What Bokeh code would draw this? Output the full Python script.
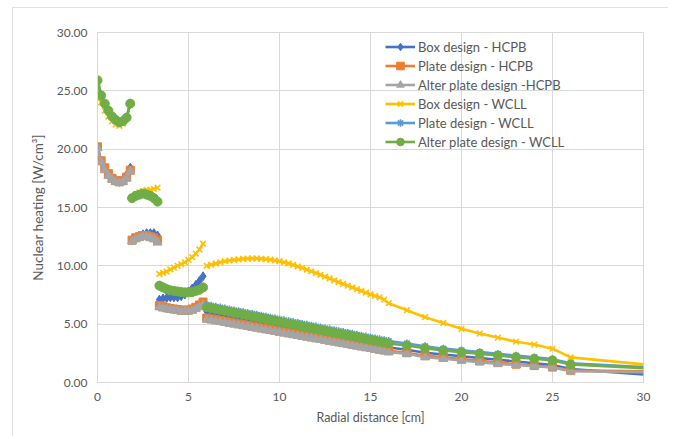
import numpy as np
from bokeh.plotting import figure
from bokeh.models import Range1d, FixedTicker, PrintfTickFormatter, Legend, LegendItem
from bokeh.embed import file_html
from bokeh.resources import INLINE

# Radial distance [cm]; None marks a break between blocks of the model
radial = [0.0, 0.2, 0.4, 0.6, 0.8, 1.0, 1.2, 1.4, 1.6, 1.8, None,
          1.9, 2.1, 2.3, 2.5, 2.7, 2.9, 3.1, 3.3, None,
          3.4, 3.6, 3.8, 4.0, 4.2, 4.4, 4.6, 4.8, 5.0, 5.2, 5.4, 5.6, 5.8, None,
          6.0, 6.25, 6.5, 6.75, 7.0, 7.25, 7.5, 7.75, 8.0, 8.25, 8.5, 8.75, 9.0, 9.25, 9.5, 9.75,
          10.0, 10.25, 10.5, 10.75, 11.0, 11.25, 11.5, 11.75, 12.0, 12.25, 12.5, 12.75, 13.0, 13.25,
          13.5, 13.75, 14.0, 14.25, 14.5, 14.75, 15.0, 15.25, 15.5, 15.75, 16.0,
          17, 18, 19, 20, 21, 22, 23, 24, 25, 26, 30]

box_hcpb = [20.2, 19.0, 18.4, 17.9, 17.5, 17.3, 17.2, 17.4, 17.8, 18.4, None,
            12.2, 12.4, 12.6, 12.7, 12.8, 12.8, 12.8, 12.6, None,
            7.1, 7.2, 7.25, 7.3, 7.3, 7.3, 7.4, 7.55, 7.8, 8.05, 8.35, 8.7, 9.1, None,
            6.10, 6.02, 5.95, 5.87, 5.79, 5.71, 5.64, 5.56, 5.48, 5.40, 5.33, 5.25, 5.17, 5.09, 5.02, 4.94,
            4.86, 4.78, 4.71, 4.63, 4.55, 4.47, 4.40, 4.32, 4.24, 4.16, 4.09, 4.01, 3.93, 3.85,
            3.78, 3.70, 3.62, 3.54, 3.47, 3.39, 3.31, 3.23, 3.16, 3.08, 3.00,
            2.8, 2.55, 2.4, 2.25, 2.1, 1.95, 1.8, 1.65, 1.5, 1.15, 0.7]

plate_hcpb = [20.2, 19.0, 18.4, 17.9, 17.5, 17.3, 17.2, 17.3, 17.6, 18.2, None,
              12.2, 12.4, 12.5, 12.6, 12.6, 12.5, 12.4, 12.2, None,
              6.6, 6.5, 6.4, 6.35, 6.3, 6.25, 6.2, 6.2, 6.2, 6.3, 6.45, 6.65, 6.9, None,
              5.52, 5.45, 5.38, 5.31, 5.24, 5.17, 5.10, 5.03, 4.96, 4.89, 4.82, 4.75, 4.68, 4.61, 4.54, 4.47,
              4.40, 4.33, 4.26, 4.19, 4.12, 4.05, 3.98, 3.91, 3.84, 3.77, 3.70, 3.63, 3.56, 3.49,
              3.42, 3.35, 3.28, 3.21, 3.14, 3.07, 3.00, 2.93, 2.86, 2.79, 2.72,
              2.55, 2.3, 2.15, 2.0, 1.85, 1.7, 1.57, 1.45, 1.32, 1.05, 0.95]

alter_hcpb = [20.1, 18.9, 18.2, 17.7, 17.4, 17.2, 17.1, 17.2, 17.5, 18.1, None,
              12.1, 12.3, 12.4, 12.5, 12.5, 12.4, 12.3, 12.0, None,
              6.45, 6.35, 6.3, 6.25, 6.2, 6.15, 6.1, 6.1, 6.1, 6.15, 6.3, 6.45, 6.65, None,
              5.40, 5.33, 5.26, 5.19, 5.12, 5.05, 4.98, 4.91, 4.84, 4.77, 4.70, 4.63, 4.56, 4.49, 4.42, 4.35,
              4.28, 4.21, 4.14, 4.07, 4.00, 3.93, 3.86, 3.79, 3.72, 3.65, 3.58, 3.51, 3.44, 3.37,
              3.30, 3.23, 3.16, 3.09, 3.02, 2.95, 2.88, 2.81, 2.74, 2.67, 2.60,
              2.46, 2.17, 2.03, 1.89, 1.74, 1.6, 1.5, 1.4, 1.28, 0.97, 0.89]

box_wcll = [25.3, 24.0, 23.3, 22.8, 22.4, 22.1, 22.0, 22.2, 22.7, 23.9, None,
            15.9, 16.1, 16.3, 16.4, 16.5, 16.5, 16.6, 16.7, None,
            9.3, 9.4, 9.5, 9.7, 9.85, 10.0, 10.15, 10.3, 10.5, 10.75, 11.05, 11.4, 11.9, None,
            10.0, 10.1, 10.2, 10.3, 10.4, 10.45, 10.5, 10.55, 10.6, 10.62, 10.63, 10.63, 10.6, 10.57, 10.52, 10.46,
            10.4, 10.3, 10.2, 10.08, 9.95, 9.82, 9.68, 9.53, 9.38, 9.23, 9.07, 8.92, 8.76, 8.6,
            8.45, 8.3, 8.15, 8.0, 7.85, 7.7, 7.55, 7.42, 7.3, 7.1, 6.8,
            6.2, 5.6, 5.1, 4.6, 4.2, 3.85, 3.5, 3.25, 2.9, 2.15, 1.55]

plate_wcll = [25.95, 24.65, 23.95, 23.35, 22.85, 22.55, 22.35, 22.45, 22.75, 23.95, None,
              15.85, 16.05, 16.15, 16.25, 16.15, 16.05, 15.85, 15.55, None,
              8.35, 8.2, 8.05, 7.95, 7.9, 7.85, 7.8, 7.77, 7.77, 7.8, 7.9, 8.0, 8.2, None,
              6.65, 6.57, 6.49, 6.42, 6.34, 6.26, 6.18, 6.11, 6.03, 5.95, 5.87, 5.80, 5.72, 5.64, 5.56, 5.49,
              5.41, 5.33, 5.25, 5.18, 5.10, 5.02, 4.94, 4.87, 4.79, 4.71, 4.63, 4.56, 4.48, 4.40,
              4.32, 4.25, 4.17, 4.09, 4.01, 3.94, 3.86, 3.78, 3.70, 3.63, 3.55,
              3.35, 3.1, 2.9, 2.75, 2.6, 2.45, 2.3, 2.15, 2.0, 1.65, 1.32]

alter_wcll = [25.9, 24.6, 23.9, 23.3, 22.8, 22.5, 22.3, 22.4, 22.7, 23.9, None,
              15.8, 16.0, 16.1, 16.2, 16.1, 16.0, 15.8, 15.5, None,
              8.3, 8.15, 8.0, 7.9, 7.85, 7.8, 7.75, 7.72, 7.72, 7.75, 7.85, 7.95, 8.15, None,
              6.45, 6.37, 6.29, 6.22, 6.14, 6.06, 5.98, 5.91, 5.83, 5.75, 5.67, 5.60, 5.52, 5.44, 5.36, 5.29,
              5.21, 5.13, 5.05, 4.98, 4.90, 4.82, 4.74, 4.67, 4.59, 4.51, 4.43, 4.36, 4.28, 4.20,
              4.12, 4.05, 3.97, 3.89, 3.81, 3.74, 3.66, 3.58, 3.50, 3.43, 3.35,
              3.17, 2.94, 2.74, 2.6, 2.46, 2.31, 2.17, 2.03, 1.89, 1.54, 1.23]

series_names = ["Box design - HCPB", "Plate design - HCPB", "Alter plate design -HCPB",
                "Box design - WCLL", "Plate design - WCLL", "Alter plate design - WCLL"]
series_values = [box_hcpb, plate_hcpb, alter_hcpb, box_wcll, plate_wcll, alter_wcll]
series_colors = ["#4472C4", "#ED7D31", "#A5A5A5", "#FFC000", "#5B9BD5", "#70AD47"]
series_markers = ["diamond", "square", "triangle", "x", "asterisk", "circle"]
marker_sizes = [9, 8, 9, 8, 8, 9]

x_ticks = [0, 5, 10, 15, 20, 25, 30]
y_ticks = [0, 5, 10, 15, 20, 25, 30]

FONT = "Lato"
TXT = "#595959"
GRID = "#D9D9D9"

p = figure(width=656, height=429, x_range=Range1d(0, 30), y_range=Range1d(0, 30),
           output_backend="svg", toolbar_location=None,
           min_border_left=85, min_border_right=25, min_border_top=25, min_border_bottom=54,
           background_fill_color="white", border_fill_color="white")
p.styles = {"outline": "1px solid #D9D9D9", "outline-offset": "-1px",
            "margin-left": "12px", "margin-top": "7px"}
p.outline_line_color = GRID

xa = np.array(radial, dtype=float)
mark_mask = np.nan_to_num(xa, nan=99.0) <= 26

items = []
for name, vals, col, mk, ms in zip(series_names, series_values, series_colors, series_markers, marker_sizes):
    ya = np.array(vals, dtype=float)
    lr = p.line(xa, ya, line_color=col, line_width=2.6)
    if mk in ("x", "asterisk"):
        sr = p.scatter(xa[mark_mask], ya[mark_mask], marker=mk, size=ms, line_color=col, line_width=1.6)
    else:
        sr = p.scatter(xa[mark_mask], ya[mark_mask], marker=mk, size=ms, fill_color=col, line_color=col, line_width=1)
    items.append(LegendItem(label=name, renderers=[lr, sr]))

legend = Legend(items=items, location=(288, 231), orientation="vertical")
legend.background_fill_alpha = 0
legend.border_line_color = None
legend.label_text_font = FONT
legend.label_text_font_size = "13px"
legend.label_text_color = TXT
legend.glyph_width = 30
legend.glyph_height = 19
legend.label_height = 19
legend.spacing = 0
legend.padding = 5
legend.margin = 0
legend.label_standoff = 3
p.add_layout(legend, "center")

for ax in (p.xaxis[0], p.yaxis[0]):
    ax.axis_line_color = GRID
    ax.major_tick_line_color = None
    ax.minor_tick_line_color = None
    ax.major_tick_out = 0
    ax.major_tick_in = 0
    ax.major_label_text_font = FONT
    ax.major_label_text_font_size = "12px"
    ax.major_label_text_color = TXT
    ax.axis_label_text_font = FONT
    ax.axis_label_text_font_style = "normal"
    ax.axis_label_text_color = TXT

p.xaxis.axis_label_text_font_size = "12.5px"
p.yaxis.axis_label_text_font_size = "13.5px"
p.xaxis.ticker = FixedTicker(ticks=x_ticks)
p.yaxis.ticker = FixedTicker(ticks=y_ticks)
p.yaxis.formatter = PrintfTickFormatter(format="%.2f")
p.xaxis.axis_label = "Radial distance [cm]"
p.yaxis.axis_label = "Nuclear heating [W/cm³]"
p.xaxis.major_label_standoff = 10
p.yaxis.major_label_standoff = 10
p.xaxis.axis_label_standoff = 6
p.yaxis.axis_label_standoff = 8

p.xgrid.ticker = FixedTicker(ticks=x_ticks)
p.ygrid.ticker = FixedTicker(ticks=y_ticks)
p.grid.grid_line_color = GRID
p.grid.grid_line_width = 1

open("out.html", "w").write(file_html(p, INLINE))
